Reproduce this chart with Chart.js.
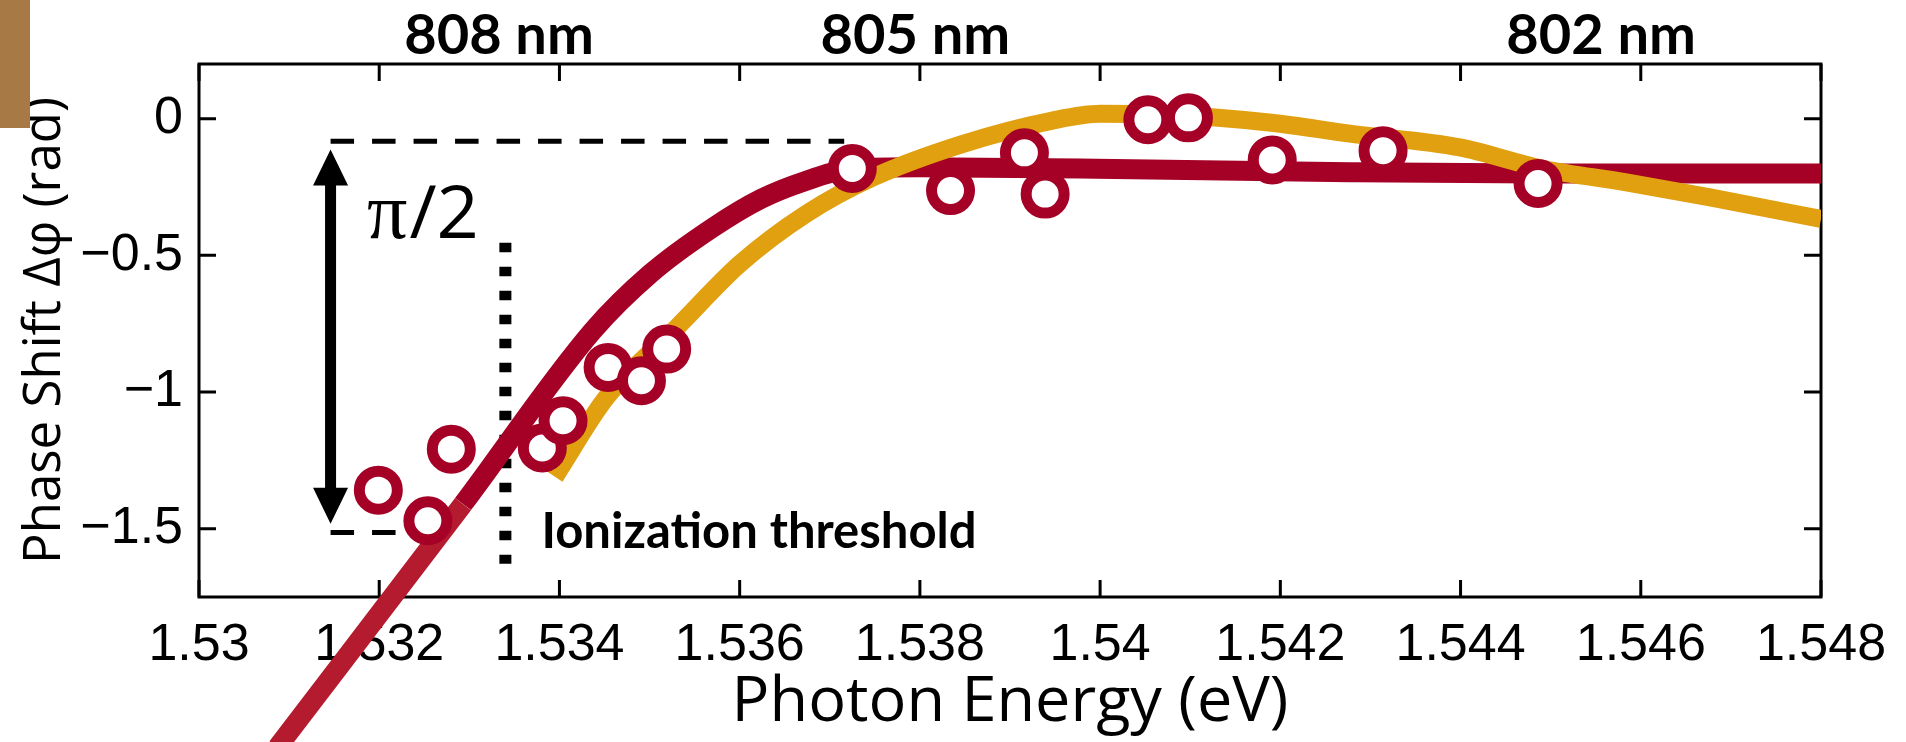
<!DOCTYPE html>
<html lang="en">
<head>
  <meta charset="UTF-8">
  <title>Phase Shift vs Photon Energy</title>
  <script src="https://cdn.jsdelivr.net/npm/chart.js"></script>
  <style>
    html, body { margin: 0; padding: 0; background: #fff; }
    #wrap { width: 1906px; height: 742px; position: relative; }
  </style>
</head>
<body>
  <div id="wrap"><canvas id="phaseChart"></canvas></div>

  <script>
    // measured phase shift (rad) against photon energy (eV)
    const measEnergy = [1.53199, 1.53254, 1.53280, 1.53381, 1.53404, 1.53454, 1.53491, 1.53519, 1.53725,
                        1.53834, 1.53916, 1.53939, 1.54053, 1.54098, 1.54191, 1.54314, 1.54486];
    const measPhase  = [-1.359, -1.471, -1.209, -1.205, -1.105, -0.910, -0.959, -0.843, -0.182,
                        -0.263, -0.125, -0.276, -0.004, 0.003, -0.151, -0.117, -0.237];

    // model curve (dark red)
    const redEnergy = [1.53087, 1.53293, 1.53437, 1.53501, 1.53570, 1.53624, 1.53674, 1.53725,
                       1.53798, 1.53996, 1.54277, 1.54488, 1.54800];
    const redPhase  = [-2.30, -1.41, -0.776, -0.567, -0.399, -0.293, -0.227, -0.182,
                       -0.178, -0.183, -0.196, -0.201, -0.201];

    // model curve (gold)
    const goldEnergy = [1.53395, 1.53452, 1.53530, 1.53600, 1.53674, 1.53748, 1.53847, 1.53947, 1.54000,
                        1.54070, 1.54190, 1.54277, 1.54399, 1.54492, 1.54584, 1.54677, 1.54800];
    const goldPhase  = [-1.31, -1.02, -0.765, -0.532, -0.348, -0.215, -0.093, -0.007, 0.018,
                        0.015, -0.015, -0.055, -0.105, -0.184, -0.233, -0.288, -0.367];

    // axes
    const xTicks = [1.53, 1.532, 1.534, 1.536, 1.538, 1.54, 1.542, 1.544, 1.546, 1.548];
    const xTickLabels = ['1.53', '1.532', '1.534', '1.536', '1.538', '1.54', '1.542', '1.544', '1.546', '1.548'];
    const yTicks = [-1.5, -1, -0.5, 0];
    const yTickLabels = ['\u22121.5', '\u22121', '\u22120.5', '0'];

    // wavelengths written along the top
    const nmLabels = ['808 nm', '805 nm', '802 nm'];
    const nmEnergy = [1.53333, 1.53795, 1.54556];

    // pi/2 guide: dashed levels, arrow, threshold marker
    const guideTop = { energy: [1.53146, 1.53716], phase: -0.083 };
    const guideLow = { energy: [1.53146, 1.53222], phase: -1.514 };
    const arrowEnergy = 1.53146;
    const arrowPhase = [-0.113, -1.482];
    const thresholdEnergy = 1.5334;
    const thresholdPhase = [-0.454, -1.628];
    const piLabel = { energy: 1.531865, phase: -0.435 };
    const thresholdLabel = { text: 'Ionization threshold', energy: 1.5338, phase: -1.569 };

    const pts = (xs, ys) => xs.map((v, i) => ({ x: v, y: ys[i] }));

    const DARK_RED = '#a50026';
    const LIGHT_RED = '#b51b2e';
    const GOLD = '#e1a00f';

    // box around the plot with inward ticks on all four sides
    const frameTicks = {
      id: 'frameTicks',
      beforeDatasetsDraw(chart) {
        const { ctx, chartArea: a, scales: { x, y } } = chart;
        ctx.save();
        ctx.strokeStyle = '#000';
        ctx.lineWidth = 3;
        ctx.strokeRect(a.left, a.top, a.right - a.left, a.bottom - a.top);
        ctx.beginPath();
        xTicks.forEach(v => {
          const px = x.getPixelForValue(v);
          ctx.moveTo(px, a.bottom); ctx.lineTo(px, a.bottom - 17);
          ctx.moveTo(px, a.top); ctx.lineTo(px, a.top + 17);
        });
        yTicks.forEach(v => {
          const py = y.getPixelForValue(v);
          ctx.moveTo(a.left, py); ctx.lineTo(a.left + 17, py);
          ctx.moveTo(a.right, py); ctx.lineTo(a.right - 17, py);
        });
        ctx.stroke();
        ctx.restore();
      }
    };

    // arrow, labels and the small tab in the corner
    const annotations = {
      id: 'annotations',
      afterDraw(chart) {
        const { ctx, scales: { x, y } } = chart;
        ctx.save();

        ctx.fillStyle = '#a77a45';
        ctx.fillRect(0, 0, 30, 128);

        // double-headed arrow
        const ax = x.getPixelForValue(arrowEnergy);
        const yTop = y.getPixelForValue(arrowPhase[0]);
        const yBot = y.getPixelForValue(arrowPhase[1]);
        const head = 36, half = 17.5;
        ctx.fillStyle = '#000';
        ctx.fillRect(ax - 5.5, yTop + head - 2, 11, yBot - yTop - 2 * head + 4);
        ctx.beginPath();
        ctx.moveTo(ax, yTop); ctx.lineTo(ax + half, yTop + head); ctx.lineTo(ax - half, yTop + head);
        ctx.closePath();
        ctx.moveTo(ax, yBot); ctx.lineTo(ax + half, yBot - head); ctx.lineTo(ax - half, yBot - head);
        ctx.closePath();
        ctx.fill();

        // pi/2
        let px = x.getPixelForValue(piLabel.energy);
        const py = y.getPixelForValue(piLabel.phase);
        ctx.textBaseline = 'alphabetic';
        ctx.textAlign = 'left';
        ctx.font = '80px "Liberation Serif"';
        ctx.fillText('\u03c0', px, py);
        px += ctx.measureText('\u03c0').width + 2;
        ctx.font = '74px "Open Sans"';
        ctx.fillText('/2', px, py);

        // threshold label
        ctx.font = 'bold 49px Lato';
        ctx.fillText(thresholdLabel.text, x.getPixelForValue(thresholdLabel.energy),
                     y.getPixelForValue(thresholdLabel.phase));

        // wavelengths above the frame
        ctx.textAlign = 'center';
        ctx.font = 'bold 56px Lato';
        nmLabels.forEach((t, i) => ctx.fillText(t, x.getPixelForValue(nmEnergy[i]), 54));

        ctx.restore();
      }
    };

    new Chart(document.getElementById('phaseChart'), {
      type: 'scatter',
      data: {
        datasets: [
          {
            label: 'measured',
            data: pts(measEnergy, measPhase),
            pointRadius: 19,
            pointBorderWidth: 11,
            pointBackgroundColor: '#fff',
            pointBorderColor: DARK_RED,
            order: 0
          },
          {
            label: 'gold model',
            data: pts(goldEnergy, goldPhase),
            showLine: true,
            borderColor: GOLD,
            borderWidth: 18,
            pointRadius: 0,
            cubicInterpolationMode: 'monotone',
            order: 1
          },
          {
            label: 'red model',
            data: pts(redEnergy, redPhase),
            showLine: true,
            borderColor: DARK_RED,
            borderWidth: 20,
            pointRadius: 0,
            cubicInterpolationMode: 'monotone',
            clip: false,
            segment: {
              borderColor: c => (c.p1.parsed.y <= -1.41 ? LIGHT_RED : undefined)
            },
            order: 2
          },
          {
            label: 'upper level',
            data: pts(guideTop.energy, guideTop.energy.map(() => guideTop.phase)),
            showLine: true,
            borderColor: '#000',
            borderWidth: 5,
            borderDash: [23.5, 18],
            pointRadius: 0,
            order: 3
          },
          {
            label: 'lower level',
            data: pts(guideLow.energy, guideLow.energy.map(() => guideLow.phase)),
            showLine: true,
            borderColor: '#000',
            borderWidth: 5,
            borderDash: [23.5, 18],
            pointRadius: 0,
            order: 3
          },
          {
            label: 'threshold',
            data: pts([thresholdEnergy, thresholdEnergy], thresholdPhase),
            showLine: true,
            borderColor: '#000',
            borderWidth: 12,
            borderDash: [9.5, 14.5],
            pointRadius: 0,
            order: 3
          }
        ]
      },
      options: {
        responsive: true,
        maintainAspectRatio: false,
        animation: false,
        events: [],
        layout: { padding: { top: 64, right: 85, bottom: 0, left: 0 } },
        plugins: {
          legend: { display: false },
          tooltip: { enabled: false }
        },
        scales: {
          x: {
            type: 'linear',
            min: 1.53,
            max: 1.548,
            grid: { display: false, drawTicks: false },
            border: { display: false },
            afterBuildTicks: s => { s.ticks = xTicks.map(v => ({ value: v })); },
            afterFit: s => { s.height = 145; },
            ticks: {
              autoSkip: false,
              maxRotation: 0,
              padding: 17,
              color: '#000',
              font: { family: '"Liberation Sans", Arial, sans-serif', size: 52 },
              callback: (v, i) => xTickLabels[i]
            },
            title: {
              display: true,
              text: 'Photon Energy (eV)',
              color: '#000',
              font: { family: '"Open Sans", sans-serif', size: 63 },
              padding: { top: 0, bottom: 1 }
            }
          },
          y: {
            type: 'linear',
            min: -1.75,
            max: 0.2,
            grid: { display: false, drawTicks: false },
            border: { display: false },
            afterBuildTicks: s => { s.ticks = yTicks.map(v => ({ value: v })); },
            afterFit: s => { s.width = 199; },
            ticks: {
              padding: 16,
              color: '#000',
              font: { family: '"Liberation Sans", Arial, sans-serif', size: 52 },
              callback: (v, i) => yTickLabels[i]
            },
            title: {
              display: true,
              text: 'Phase Shift \u0394\u03c6 (rad)',
              color: '#000',
              font: { family: '"Open Sans", sans-serif', size: 51 },
              padding: { top: 15, bottom: 0 }
            }
          }
        }
      },
      plugins: [frameTicks, annotations]
    });
  </script>
</body>
</html>
